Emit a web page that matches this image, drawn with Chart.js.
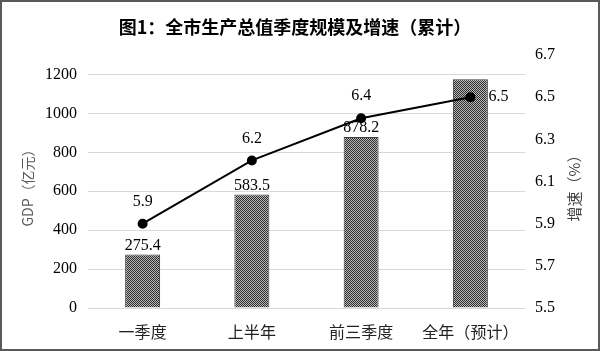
<!DOCTYPE html>
<html><head><meta charset="utf-8">
<script src="https://cdn.jsdelivr.net/npm/chart.js@4"></script>
<style>html,body{margin:0;padding:0;background:#fff;} #wrap{position:relative;width:600px;height:351px;}</style>
</head><body><div id="wrap"><canvas id="c" width="600" height="351"></canvas></div>
<script>
const categories = ['一季度', '上半年', '前三季度', '全年（预计）'];
const gdpValues = [275.4, 583.5, 878.2, 1175];
const gdpLabels = ['275.4', '583.5', '878.2', ''];
const growthValues = [5.9, 6.2, 6.4, 6.5];
const growthLabels = ['5.9', '6.2', '6.4', '6.5'];
const titleText = '图1：全市生产总值季度规模及增速（累计）';
const leftAxisTitle = 'GDP（亿元）';
const rightAxisTitle = '增速（%）';

const CJK = '"Noto Sans CJK SC", "Noto Sans", sans-serif';
const SERIF = '"Liberation Serif", "DejaVu Serif", serif';

function makePattern() {
  const p = document.createElement('canvas');
  p.width = 2; p.height = 2;
  const g = p.getContext('2d');
  g.fillStyle = '#b8b8b8'; g.fillRect(0, 0, 2, 2);
  g.fillStyle = '#2e2e2e'; g.fillRect(0, 0, 1, 1); g.fillRect(1, 1, 1, 1);
  return g.createPattern(p, 'repeat');
}

const decor = {
  id: 'decor',
  afterDatasetsDraw(chart) {
    const ctx = chart.ctx;
    ctx.save();
    ctx.fillStyle = '#000';
    ctx.font = '16px ' + SERIF;
    const barMeta = chart.getDatasetMeta(1);
    ctx.textAlign = 'center';
    ctx.textBaseline = 'bottom';
    barMeta.data.forEach((el, i) => {
      if (gdpLabels[i]) ctx.fillText(gdpLabels[i], el.x, el.y - 1);
    });
    const lineMeta = chart.getDatasetMeta(0);
    lineMeta.data.forEach((el, i) => {
      if (i === lineMeta.data.length - 1) {
        ctx.textAlign = 'left'; ctx.textBaseline = 'middle';
        ctx.fillText(growthLabels[i], el.x + 18, el.y);
      } else {
        ctx.textAlign = 'center'; ctx.textBaseline = 'bottom';
        ctx.fillText(growthLabels[i], el.x, el.y - 14);
      }
    });
    ctx.restore();
  },
  afterDraw(chart) {
    const ctx = chart.ctx;
    const ca = chart.chartArea;
    const cy = (ca.top + ca.bottom) / 2 + 3;
    ctx.save();
    ctx.fillStyle = '#000';
    ctx.font = '600 18px ' + CJK;
    ctx.textAlign = 'center'; ctx.textBaseline = 'middle';
    ctx.fillText(titleText, 295, 27);
    ctx.font = '14px ' + CJK;
    ctx.fillStyle = '#595959';
    ctx.translate(28, cy); ctx.rotate(-Math.PI / 2);
    ctx.fillText(leftAxisTitle, 0, 0);
    ctx.restore();
    ctx.save();
    ctx.font = '15px ' + CJK;
    ctx.fillStyle = '#404040';
    ctx.textAlign = 'center'; ctx.textBaseline = 'middle';
    ctx.translate(574, cy); ctx.rotate(-Math.PI / 2);
    ctx.fillText(rightAxisTitle, 0, 0);
    ctx.restore();
    ctx.save();
    ctx.strokeStyle = '#595959'; ctx.lineWidth = 2;
    ctx.strokeRect(1, 1, 598, 349);
    ctx.restore();
  }
};

new Chart(document.getElementById('c'), {
  data: {
    labels: categories,
    datasets: [
      {
        type: 'line', label: '增速', data: growthValues, yAxisID: 'y1', order: 0,
        borderColor: '#000', borderWidth: 2, pointRadius: 4, pointBackgroundColor: '#000',
        pointBorderColor: '#000', tension: 0
      },
      {
        type: 'bar', label: 'GDP', data: gdpValues, yAxisID: 'y', order: 1,
        backgroundColor: makePattern(), borderColor: '#3c3c3c', borderWidth: 1,
        barPercentage: 0.32, categoryPercentage: 1
      }
    ]
  },
  options: {
    responsive: false, animation: false, devicePixelRatio: 1,
    layout: { padding: { top: 55, left: 0, right: 0, bottom: 0 } },
    plugins: { legend: { display: false }, tooltip: { enabled: false } },
    scales: {
      x: {
        grid: { display: false }, border: { display: false },
        ticks: { color: '#222', font: { family: CJK, size: 16 }, padding: 6 },
        afterFit(s) { s.height = 43; }
      },
      y: {
        position: 'left', min: 0, max: 1300,
        ticks: { stepSize: 200, includeBounds: false, color: '#000', font: { family: SERIF, size: 16 }, padding: 11,
          callback: v => String(v) },
        grid: { color: '#d9d9d9', lineWidth: 1, drawTicks: false },
        border: { display: false },
        afterFit(s) { s.width = 88; }
      },
      y1: {
        position: 'right', min: 5.5, max: 6.7,
        ticks: { stepSize: 0.2, color: '#000', font: { family: SERIF, size: 16 }, padding: 10,
          callback: v => v.toFixed(1) },
        grid: { display: false, drawTicks: false }, border: { display: false },
        afterFit(s) { s.width = 75; }
      }
    }
  },
  plugins: [decor]
});
</script></body></html>
